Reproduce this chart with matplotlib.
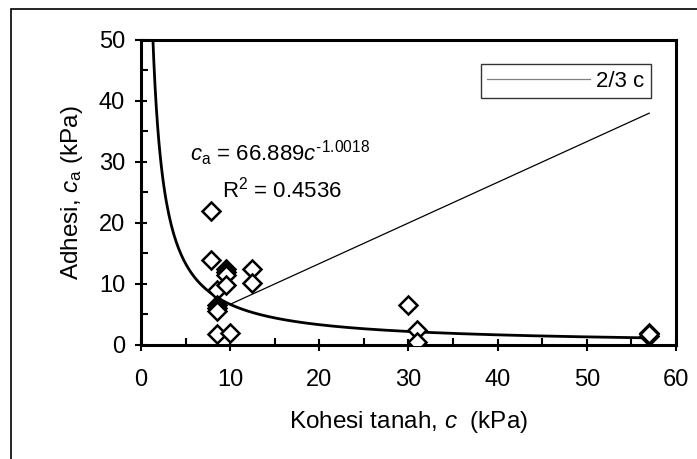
import numpy as np
import matplotlib
matplotlib.use("Agg")
import matplotlib.pyplot as plt
from matplotlib.patches import Rectangle

plt.rcParams['font.family'] = ['Liberation Sans', 'DejaVu Sans']
plt.rcParams['mathtext.fontset'] = 'custom'
plt.rcParams['mathtext.rm'] = 'Liberation Sans'
plt.rcParams['mathtext.it'] = 'Liberation Sans:italic'

# measured points (c, ca) in kPa
kohesi = [7.8, 7.8, 9.5, 9.5, 9.5, 12.5, 12.5, 8.5, 9.5, 8.5, 8.5, 8.5,
          8.5, 10.0, 30.0, 31.0, 31.0, 57.0, 57.0, 57.0]
adhesi = [22.0, 14.0, 12.5, 12.0, 11.5, 12.5, 10.2, 9.0, 9.8, 6.5, 6.0, 5.5,
          1.8, 2.0, 6.5, 2.5, 0.5, 2.0, 1.5, 1.8]

# 2/3 c reference line end points
line_x = [10.0, 57.0]
line_y = [6.67, 38.0]

# power trendline ca = a * c^b
fit_a = 66.889
fit_b = -1.0018
fit_xmin, fit_xmax = 1.3, 57.0

fig = plt.figure(figsize=(6.97, 4.59), dpi=100)
ax = fig.add_axes([0.2023, 0.2484, 0.7675, 0.6645])

# frame around figure (cropped on right/bottom)
fig.patches.append(Rectangle((11 / 697, -0.1), 1.2, (459 - 9) / 459 + 0.1,
                             transform=fig.transFigure, fill=False,
                             edgecolor='black', linewidth=1.2))

xs = np.linspace(fit_xmin, fit_xmax, 400)
ax.plot(xs, fit_a * xs ** fit_b, color='black', linewidth=2.0, zorder=2)
ax.plot(line_x, line_y, color='black', linewidth=0.9, label='2/3 c', zorder=2)
ax.plot(kohesi, adhesi, linestyle='none', marker='D', markersize=9.5,
        markerfacecolor='white', markeredgecolor='black',
        markeredgewidth=1.8, zorder=3)

ax.set_xlim(0, 60)
ax.set_ylim(0, 50)
ax.set_xticks(range(0, 61, 10))
ax.set_yticks(range(0, 51, 10))
ax.set_xticks(range(5, 60, 10), minor=True)
ax.set_yticks(range(5, 50, 10), minor=True)
ax.tick_params(which='major', direction='inout', length=9, width=1.5,
               labelsize=17)
ax.tick_params(axis='x', which='major', pad=13)
ax.tick_params(axis='y', which='major', pad=7)
ax.tick_params(which='minor', direction='in', length=5, width=1.5)
for s in ax.spines.values():
    s.set_linewidth(2.2)

ax.set_xlabel(r'Kohesi tanah, $\mathit{c}$  (kPa)', fontsize=17.5, labelpad=13)
ax.set_ylabel(r'Adhesi, $\mathit{c}_{\mathrm{a}}$ (kPa)', fontsize=17.5, labelpad=10)

eq_text = r'$\mathit{c}_{\mathrm{a}}$ = 66.889$\mathit{c}^{\mathrm{' + '\u2010' + r'1.0018}}$'
ax.text(5.5, 31.4, eq_text, fontsize=16, va='center', ha='left')
ax.text(9.1, 25.4, r'R$^{2}$ = 0.4536', fontsize=16, va='center', ha='left')

leg = ax.legend(loc='upper right', bbox_to_anchor=(0.953, 0.92), fontsize=16,
                handlelength=4.6, frameon=True, fancybox=False,
                borderpad=0.28, handletextpad=0.3, borderaxespad=0)
leg.get_frame().set_edgecolor('black')
leg.get_frame().set_linewidth(1.0)
leg.get_lines()[0].set_color('gray')

fig.savefig('out.png', dpi=100)
